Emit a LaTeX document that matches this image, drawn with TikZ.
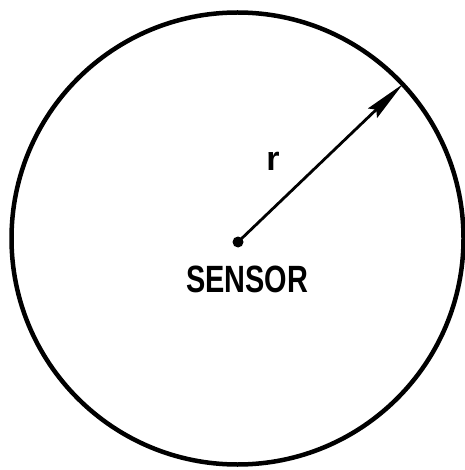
\documentclass[tikz,border=0pt]{standalone}
\usepackage{fontspec}
\setmainfont{Liberation Sans}
\usetikzlibrary{arrows.meta}
\begin{document}
\begin{tikzpicture}[x=1pt,y=1pt,
  ring/.style={draw=black, line width=4.5pt, circle, minimum size=452pt, inner sep=0pt},
  sensordot/.style={fill=black, circle, minimum size=11pt, inner sep=0pt},
  radius arrow/.style={line width=2.8pt, -{Stealth[length=42pt, width=13pt, inset=5pt]}},
  lbl/.style={inner sep=0pt, font=\bfseries\fontsize{38}{40}\selectfont}
]
\useasboundingbox (0,0) rectangle (464,-470);
\node[ring] (c) at (237.5,-238.5) {};
\node[sensordot] (s) at (238,-242) {};
\coordinate (tip) at (403,-84);
\draw[radius arrow] (s.center) -- (tip);
\node[lbl, xscale=0.76, transform shape] (sensor) at (247,-279) {SENSOR};
\node[lbl, font=\bfseries\fontsize{34}{36}\selectfont] (r) at (273,-161) {r};
\end{tikzpicture}
\end{document}
